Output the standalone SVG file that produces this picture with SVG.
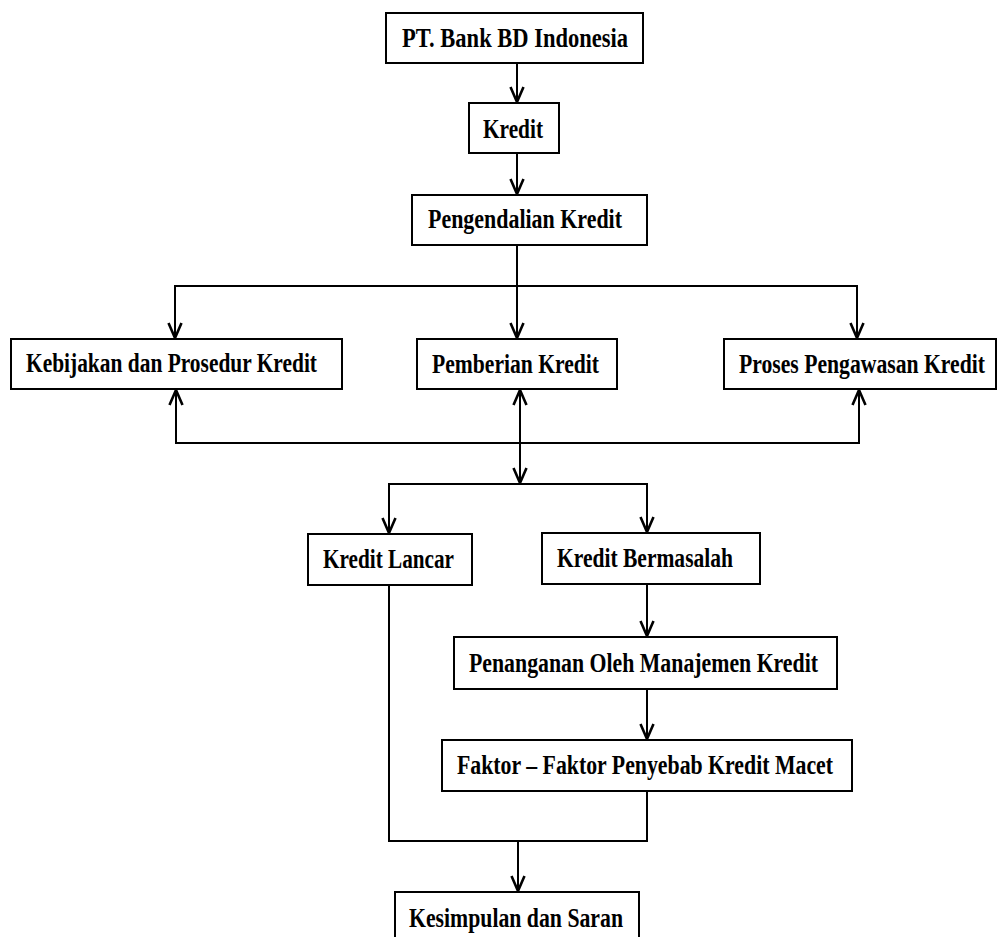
<svg xmlns="http://www.w3.org/2000/svg" width="998" height="937" viewBox="0 0 998 937">
<style>
.box{fill:#fff;stroke:#000;stroke-width:2}
.lbl{font-family:"Liberation Serif","Times New Roman",serif;font-weight:bold;font-size:27px;fill:#000}
.c{fill:none;stroke:#000;stroke-width:2}
</style>
<defs>
<marker id="ah" viewBox="-18 -9 20 18" markerWidth="20" markerHeight="18" markerUnits="userSpaceOnUse" refX="0" refY="0" orient="auto-start-reverse">
<path d="M-15,-6.5 L0,0 L-15,6.5" fill="none" stroke="#000" stroke-width="2.6"/>
</marker>
</defs>
<rect width="998" height="937" fill="#fff"/>
<g id="connectors">
<path class="c" d="M517,63 V102" marker-end="url(#ah)"/>
<path class="c" d="M517,153 V194" marker-end="url(#ah)"/>
<path class="c" d="M517,245 V338" marker-end="url(#ah)"/>
<path class="c" d="M175,338 V286 H857 V338" marker-start="url(#ah)" marker-end="url(#ah)"/>
<path class="c" d="M176,390 V443 H859 V390" marker-start="url(#ah)" marker-end="url(#ah)"/>
<path class="c" d="M520,390 V483" marker-start="url(#ah)" marker-end="url(#ah)"/>
<path class="c" d="M389,533 V484 H647 V532" marker-start="url(#ah)" marker-end="url(#ah)"/>
<path class="c" d="M647,584 V636" marker-end="url(#ah)"/>
<path class="c" d="M647,689 V739" marker-end="url(#ah)"/>
<path class="c" d="M389,585 V841 H647 V791"/>
<path class="c" d="M518,841 V891" marker-end="url(#ah)"/>
</g>
<g id="n1"><rect class="box" x="386" y="13" width="257" height="50"/><text class="lbl" x="402" y="47" textLength="226" lengthAdjust="spacingAndGlyphs">PT. Bank BD Indonesia</text></g>
<g id="n2"><rect class="box" x="469" y="103" width="90" height="50"/><text class="lbl" x="483" y="138" textLength="60" lengthAdjust="spacingAndGlyphs">Kredit</text></g>
<g id="n3"><rect class="box" x="412" y="195" width="235" height="50"/><text class="lbl" x="428" y="228" textLength="194" lengthAdjust="spacingAndGlyphs">Pengendalian Kredit</text></g>
<g id="n4"><rect class="box" x="11" y="339" width="331" height="50"/><text class="lbl" x="26" y="372" textLength="291" lengthAdjust="spacingAndGlyphs">Kebijakan dan Prosedur Kredit</text></g>
<g id="n5"><rect class="box" x="417" y="339" width="200" height="50"/><text class="lbl" x="432" y="373" textLength="167" lengthAdjust="spacingAndGlyphs">Pemberian Kredit</text></g>
<g id="n6"><rect class="box" x="724" y="339" width="272" height="50"/><text class="lbl" x="739" y="373" textLength="246" lengthAdjust="spacingAndGlyphs">Proses Pengawasan Kredit</text></g>
<g id="n7"><rect class="box" x="308" y="534" width="164" height="51"/><text class="lbl" x="323" y="568" textLength="131" lengthAdjust="spacingAndGlyphs">Kredit Lancar</text></g>
<g id="n8"><rect class="box" x="542" y="533" width="218" height="51"/><text class="lbl" x="557" y="567" textLength="176" lengthAdjust="spacingAndGlyphs">Kredit Bermasalah</text></g>
<g id="n9"><rect class="box" x="454" y="637" width="383" height="52"/><text class="lbl" x="469" y="672" textLength="349" lengthAdjust="spacingAndGlyphs">Penanganan Oleh Manajemen Kredit</text></g>
<g id="n10"><rect class="box" x="442" y="740" width="410" height="51"/><text class="lbl" x="457" y="774" textLength="376" lengthAdjust="spacingAndGlyphs">Faktor – Faktor Penyebab Kredit Macet</text></g>
<g id="n11"><rect class="box" x="395" y="892" width="244" height="60"/><text class="lbl" x="409" y="927" textLength="214" lengthAdjust="spacingAndGlyphs">Kesimpulan dan Saran</text></g>
</svg>
